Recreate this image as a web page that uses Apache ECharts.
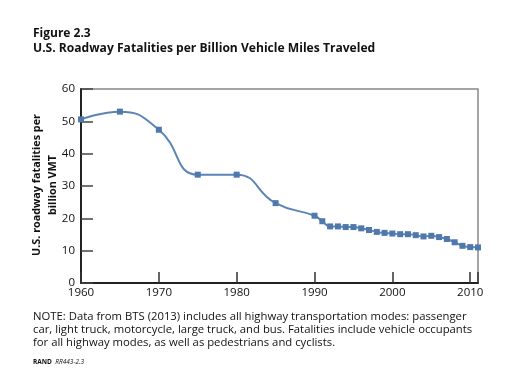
<!DOCTYPE html>
<html><head><meta charset="utf-8">
<script src="https://cdn.jsdelivr.net/npm/echarts@6/dist/echarts.min.js"></script>
<style>html,body{margin:0;padding:0;background:#fff}#c{width:511px;height:381px}</style>
</head><body><div id="c"></div>
<script>
const years = [1960,1965,1970,1975,1980,1985,1990,1991,1992,1993,1994,1995,1996,1997,1998,1999,2000,2001,2002,2003,2004,2005,2006,2007,2008,2009,2010,2011];
const fatalities = [50.6,53.0,47.4,33.5,33.5,24.7,20.8,19.1,17.5,17.5,17.3,17.3,16.9,16.4,15.8,15.5,15.3,15.1,15.1,14.8,14.4,14.6,14.2,13.6,12.6,11.5,11.1,11.0];
const xTicks = [1960,1970,1980,1990,2000,2010];
const yTicks = [0,10,20,30,40,50,60];
const titleLine1 = 'Figure 2.3';
const titleLine2 = 'U.S. Roadway Fatalities per Billion Vehicle Miles Traveled';
const yName = 'U.S. roadway fatalities per\nbillion VMT';
const noteLines = ['NOTE: Data from BTS (2013) includes all highway transportation modes: passenger','car, light truck, motorcycle, large truck, and bus. Fatalities include vehicle occupants','for all highway modes, as well as pedestrians and cyclists.'];

const FONT = '"Open Sans", "Noto Sans", sans-serif';
const chart = echarts.init(document.getElementById('c'), null, {renderer:'canvas'});
chart.setOption({
  animation:false,
  textStyle:{fontFamily:FONT},
  grid:{left:81,right:33,top:89,bottom:98,show:true,borderColor:'#888',borderWidth:1.5},
  xAxis:{type:'value',min:1960,max:2011,interval:10,
    axisLine:{show:true,onZero:false,lineStyle:{color:'#222',width:2}},
    axisTick:{show:true,inside:true,length:11,lineStyle:{color:'#333',width:1.5}},
    axisLabel:{color:'#111',fontSize:11.5,margin:4,fontFamily:FONT,
      formatter:v=>xTicks.includes(v)?String(v):''},
    splitLine:{show:false}},
  yAxis:{type:'value',min:0,max:60,interval:10,
    axisLine:{show:true,lineStyle:{color:'#222',width:2}},
    axisTick:{show:true,inside:true,length:12,lineStyle:{color:'#444',width:1.5}},
    axisLabel:{color:'#111',fontSize:11.5,margin:6,fontFamily:FONT,
      formatter:v=>yTicks.includes(v)?String(v):''},
    splitLine:{show:false}},
  series:[{type:'line',data:years.map((y,i)=>[y,fatalities[i]]),smooth:0.5,
    symbol:'rect',symbolSize:6,
    lineStyle:{color:'#5b84b6',width:2},
    itemStyle:{color:'#4f78ad'}}],
  graphic:[
    {type:'text',left:33,top:28,style:{text:titleLine1,font:'bold 12px '+FONT,fill:'#111'}},
    {type:'text',left:33,top:43,style:{text:titleLine2,font:'bold 12.1px '+FONT,fill:'#111'}},
    {type:'text',x:45,y:185,rotation:Math.PI/2,style:{text:yName,font:'bold 10.8px '+FONT,fill:'#111',lineHeight:16,align:'center',verticalAlign:'middle'}},
    {type:'text',left:33,top:310,style:{text:noteLines.join('\n'),font:'11.3px '+FONT,fill:'#111',lineHeight:13}},
    {type:'text',left:33,top:356,style:{text:'{b|RAND} {i|RR443-2.3}',rich:{b:{font:'bold 6.5px '+FONT,fill:'#111'},i:{font:'italic 6.5px '+FONT,fill:'#111'}}}}
  ]
});
</script></body></html>
